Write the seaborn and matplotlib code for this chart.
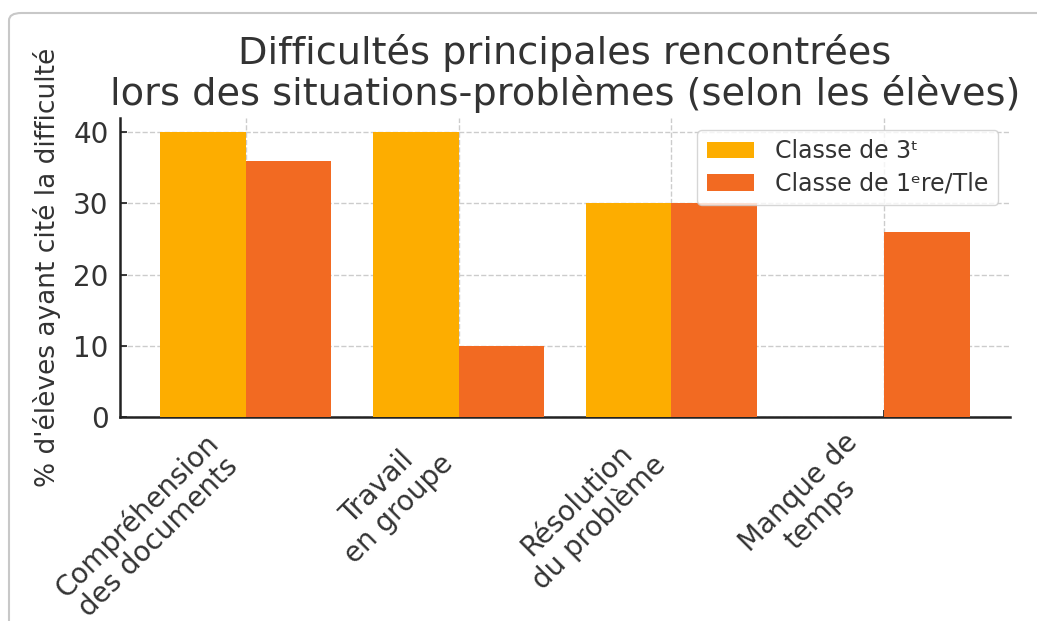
import numpy as np
import pandas as pd
import matplotlib
matplotlib.use("Agg")
import matplotlib.pyplot as plt
import seaborn as sns
from matplotlib.patches import FancyBboxPatch

categories = ["Compréhension\ndes documents", "Travail\nen groupe",
              "Résolution\ndu problème", "Manque de\ntemps"]
classe_3 = [40, 40, 30, 0]
classe_1 = [36, 10, 30, 26]
series = ["Classe de 3ᵗ", "Classe de 1ᵉre/Tle"]
colors = ["#FDAD00", "#F26A22"]

df = pd.DataFrame({
    "cat": categories * 2,
    "val": classe_3 + classe_1,
    "classe": [series[0]] * 4 + [series[1]] * 4,
})

sns.set_theme(style="whitegrid")
plt.rcParams["font.family"] = ["DejaVu Sans"]

fig = plt.figure(figsize=(10.37, 6.21), dpi=100)
ax = fig.add_axes([0.1157, 0.3285, 0.8583, 0.4815])

# card border
card = FancyBboxPatch((9 / 1037, -0.2), 1.2, (621 - 13) / 621 + 0.2,
                      boxstyle="round,pad=0,rounding_size=0.012",
                      transform=fig.transFigure, fill=False,
                      edgecolor="#c8c8c8", linewidth=1.5, zorder=-10)
fig.patches.append(card)

sns.barplot(data=df, x="cat", y="val", hue="classe", palette=colors,
            width=0.8, saturation=1, linewidth=0, ax=ax, zorder=3)

ax.set_xlim(-0.59, 3.59)
ax.set_ylim(0, 42)
ax.set_yticks([0, 10, 20, 30, 40])
ax.grid(True, linestyle="--", color="#cccccc", linewidth=1)
ax.set_axisbelow(True)
for s in ["top", "right"]:
    ax.spines[s].set_visible(False)
for s in ["left", "bottom"]:
    ax.spines[s].set_color("#222222")
    ax.spines[s].set_linewidth(1.8)
ax.tick_params(axis="both", direction="in", length=5, color="#222222",
               labelsize=20, labelcolor="#333333", left=True, bottom=True)
ax.tick_params(axis="y", pad=8)
ax.tick_params(axis="x", pad=8)
ax.set_xticks(range(4))
ax.set_xticklabels(categories, rotation=45, ha="right", rotation_mode="default",
                   multialignment="center", linespacing=1.1)
ax.set_xlabel("")
ax.set_ylabel("% d'élèves ayant cité la difficulté", fontsize=19, color="#333333",
              labelpad=9)
ax.set_title("Difficultés principales rencontrées\nlors des situations-problèmes (selon les élèves)",
             fontsize=27.5, color="#333333", pad=9, linespacing=1.12)

leg = ax.legend(loc="upper right", fontsize=17, frameon=True, borderpad=0.4,
                handlelength=2.0, labelspacing=0.35, handletextpad=0.9)
leg.get_frame().set_edgecolor("#cccccc")
for t in leg.get_texts():
    t.set_color("#333333")

fig.savefig("out.png", dpi=100)
